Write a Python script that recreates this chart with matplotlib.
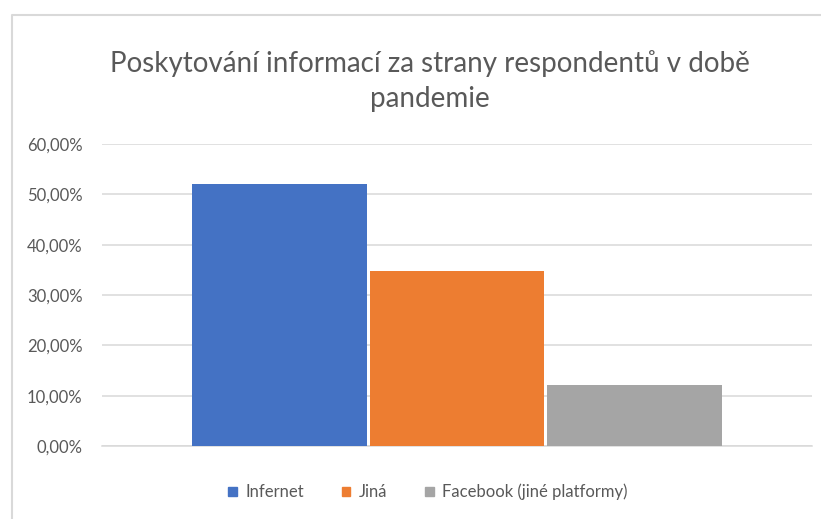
import matplotlib.pyplot as plt
from matplotlib.lines import Line2D
from matplotlib.ticker import FuncFormatter

# data
series = ["Infernet", "Jiná", "Facebook (jiné platformy)"]
values = [0.5205, 0.3477, 0.1212]
colors = ["#4472c4", "#ed7d31", "#a5a5a5"]
title = "Poskytování informací za strany respondentů v době\npandemie"

W, H = 821, 519
fig = plt.figure(figsize=(W / 100, H / 100), dpi=100)
plt.rcParams['font.family'] = ['Lato', 'DejaVu Sans']

text_color = "#595959"
grid_color = "#d9d9d9"

# chart area border (left + top only visible)
fig.add_artist(Line2D([12 / W, 12 / W, 1.0], [0.0, 1 - 15 / H, 1 - 15 / H],
                      transform=fig.transFigure, color=grid_color, lw=1.5))

ax = fig.add_axes([102 / W, (H - 446) / H, (812 - 102) / W, (446 - 144) / H])

bar_w = 0.246
offsets = [-0.25, 0.0, 0.25]
for name, v, c, off in zip(series, values, colors, offsets):
    ax.bar(off, v, width=bar_w, color=c, label=name, zorder=3)

ax.set_xlim(-0.5, 0.5)
ax.set_ylim(0, 0.6)
ax.set_yticks([i / 10 for i in range(7)])
ax.yaxis.set_major_formatter(FuncFormatter(lambda y, _: f"{y * 100:.2f}%".replace(".", ",")))
ax.set_xticks([])
ax.grid(axis="y", color=grid_color, lw=1.1, zorder=0)
for s in ["top", "right", "left"]:
    ax.spines[s].set_visible(False)
ax.spines["bottom"].set_color(grid_color)
ax.spines["bottom"].set_linewidth(1.1)
ax.tick_params(axis="y", length=0, pad=14, labelsize=12, labelcolor=text_color)

fig.text(430 / W, 1 - 81 / H, title, ha="center", va="center", fontsize=20,
         color=text_color, linespacing=1.4)

handles = [plt.Rectangle((0, 0), 1, 1, color=c) for c in colors]
fig.legend(handles, series, loc="center", bbox_to_anchor=(428 / W, 1 - 492 / H),
           ncol=3, frameon=False, fontsize=12, labelcolor=text_color,
           handlelength=0.5, handleheight=0.5, handletextpad=0.5, columnspacing=2.3)

fig.savefig("out.png", dpi=100)
